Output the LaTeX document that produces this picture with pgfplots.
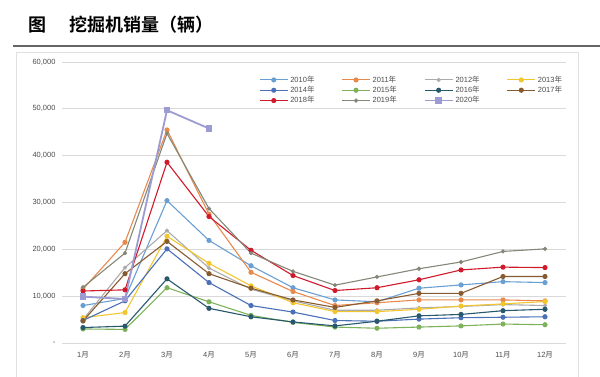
\documentclass[border=0pt]{standalone}
\usepackage{pgfplots}
\pgfplotsset{compat=1.18}
\usepackage{fontspec}
\setmainfont{Liberation Sans}
\newfontfamily\cjk{Noto Sans CJK SC}[BoldFont={Noto Sans CJK SC Bold}]
\definecolor{c10}{HTML}{6A9FD3}
\definecolor{c11}{HTML}{E88A4E}
\definecolor{c12}{HTML}{ABABAB}
\definecolor{c13}{HTML}{F2C62E}
\definecolor{c14}{HTML}{4A70B8}
\definecolor{c15}{HTML}{7DB25A}
\definecolor{c16}{HTML}{28586E}
\definecolor{c17}{HTML}{875A30}
\definecolor{c18}{HTML}{D0192B}
\definecolor{c19}{HTML}{848878}
\definecolor{c20}{HTML}{9C9CD2}
\newcommand{\Y}{{\cjk 年}}
\newcommand{\M}{{\cjk 月}}
\begin{document}
\begin{tikzpicture}
\path[use as bounding box] (0,0) rectangle (600bp,377bp);
\node[anchor=west, inner sep=0pt] at (28bp,352bp) {\cjk\bfseries\fontsize{18bp}{18bp}\selectfont 图\hspace{23bp}挖掘机销量（辆）};
\draw[black!60, line width=2bp] (13bp,330.5bp) -- (600bp,330.5bp);
\draw[black!12, line width=0.8bp] (16bp,0bp) -- (16bp,325bp) -- (578bp,325bp) -- (578bp,0bp);
\begin{axis}[
  at={(62bp,34bp)}, anchor=south west,
  scale only axis, width=504bp, height=281bp,
  xmin=0.5, xmax=12.5, ymin=0, ymax=60000,
  scaled y ticks=false,
  xtick={1,2,3,4,5,6,7,8,9,10,11,12},
  xticklabels={1\M,2\M,3\M,4\M,5\M,6\M,7\M,8\M,9\M,10\M,11\M,12\M},
  ytick={0,10000,20000,30000,40000,50000,60000},
  yticklabels={-,{10,000},{20,000},{30,000},{40,000},{50,000},{60,000}},
  axis line style={draw=none}, major tick length=0pt,
  ymajorgrids, grid style={draw=black!15, line width=0.7bp},
  tick label style={font=\fontsize{7.5bp}{9bp}\selectfont, text=black!70},
  xticklabel style={yshift=-5bp},
  yticklabel style={xshift=-3bp},
  legend columns=4,
  legend style={at={(0.385,0.965)}, anchor=north west, draw=none, fill=none,
    font=\fontsize{7.5bp}{8bp}\selectfont, text=black!70, row sep=-1.5bp,
    /tikz/every even column/.append style={column sep=25bp}},
  legend cell align=left,
  legend image code/.code={\draw[mark repeat=2,mark phase=2] plot coordinates {(0bp,0bp) (14bp,0bp) (28bp,0bp)};},
  every axis plot/.append style={line width=1.1bp, mark size=2bp},
]
\addplot[c10, mark=*] coordinates {(1,8000)(2,9500)(3,30400)(4,21900)(5,16500)(6,11800)(7,9200)(8,8800)(9,11700)(10,12400)(11,13100)(12,12900)};
\addlegendentry{2010\Y}
\addplot[c11, mark=*] coordinates {(1,11500)(2,21500)(3,45500)(4,27500)(5,15100)(6,11000)(7,8000)(8,8600)(9,9200)(10,9200)(11,9200)(12,9000)};
\addlegendentry{2011\Y}
\addplot[c12, mark=*, mark size=1.5bp] coordinates {(1,5000)(2,16100)(3,24000)(4,16000)(5,11500)(6,9000)(7,7000)(8,7000)(9,7500)(10,7800)(11,8200)(12,8000)};
\addlegendentry{2012\Y}
\addplot[c13, mark=*] coordinates {(1,5400)(2,6500)(3,22800)(4,17000)(5,12200)(6,8600)(7,6700)(8,6700)(9,7200)(10,7900)(11,8350)(12,8850)};
\addlegendentry{2013\Y}
\addplot[c14, mark=*] coordinates {(1,4800)(2,9000)(3,20100)(4,12900)(5,8000)(6,6600)(7,4800)(8,4650)(9,5100)(10,5400)(11,5500)(12,5600)};
\addlegendentry{2014\Y}
\addplot[c15, mark=*] coordinates {(1,3000)(2,2900)(3,11800)(4,8800)(5,5900)(6,4400)(7,3400)(8,3150)(9,3400)(10,3650)(11,4050)(12,3900)};
\addlegendentry{2015\Y}
\addplot[c16, mark=*] coordinates {(1,3300)(2,3600)(3,13700)(4,7400)(5,5600)(6,4500)(7,3650)(8,4650)(9,5800)(10,6100)(11,6900)(12,7200)};
\addlegendentry{2016\Y}
\addplot[c17, mark=*] coordinates {(1,4700)(2,14800)(3,21700)(4,14800)(5,11700)(6,9200)(7,7600)(8,9000)(9,10600)(10,10600)(11,14200)(12,14200)};
\addlegendentry{2017\Y}
\addplot[c18, mark=*] coordinates {(1,11100)(2,11350)(3,38600)(4,27000)(5,19800)(6,14400)(7,11200)(8,11800)(9,13500)(10,15600)(11,16200)(12,16100)};
\addlegendentry{2018\Y}
\addplot[c19, mark=*, mark size=1.5bp] coordinates {(1,11900)(2,19200)(3,44750)(4,28700)(5,19200)(6,15300)(7,12350)(8,14100)(9,15850)(10,17300)(11,19550)(12,20100)};
\addlegendentry{2019\Y}
\addplot[c20, mark=square*, line width=1.8bp, mark size=2.3bp] coordinates {(1,9900)(2,9400)(3,49700)(4,45800)};
\addlegendentry{2020\Y}
\end{axis}
\end{tikzpicture}
\end{document}
